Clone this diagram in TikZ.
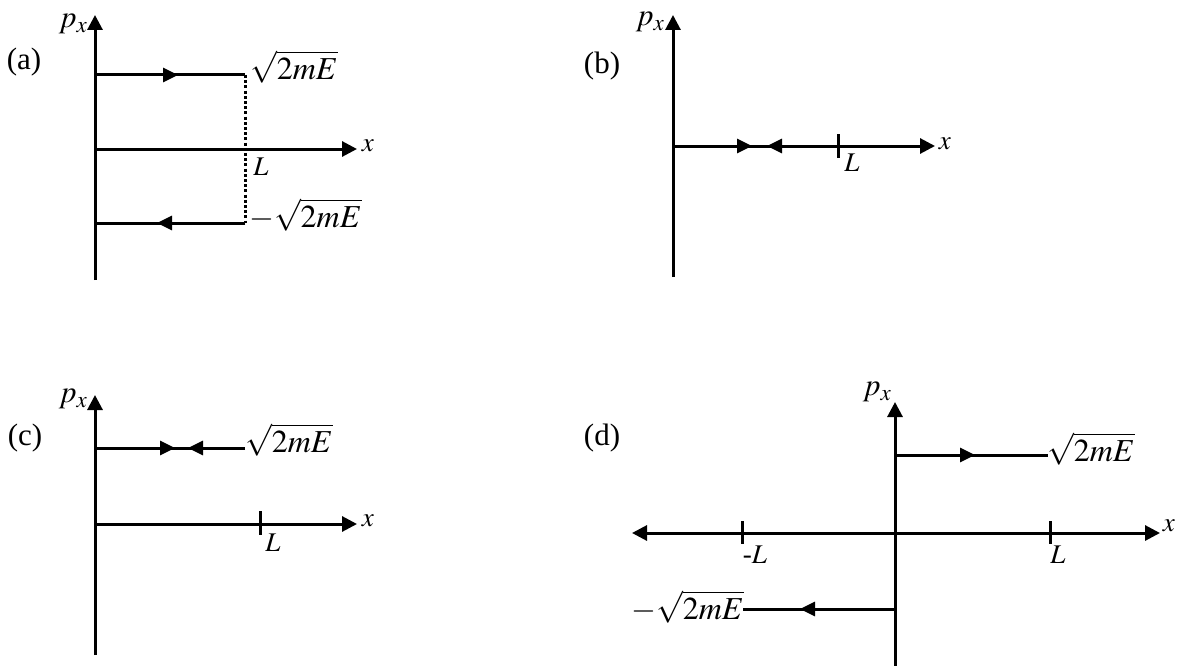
\documentclass[tikz,border=0pt]{standalone}
\usepackage{mathptmx}
\usepackage[no-math]{fontspec}
\setmainfont{Liberation Serif}
\usetikzlibrary{arrows.meta}
\begin{document}
\begin{tikzpicture}[x=1pt,y=-1pt,
  axisline/.style={line width=3pt,-{Triangle[length=15pt,width=15pt]}},
  plainline/.style={line width=3pt},
  arrowline/.style={line width=3pt,-{Triangle[length=15pt,width=14pt]}},
  tickline/.style={line width=3pt},
  dotline/.style={line width=3pt,dash pattern=on 3pt off 2.2pt},
  sqrtlab/.style={font=\fontsize{32}{36}\selectfont,inner sep=0pt},
  smalllab/.style={font=\fontsize{27}{30}\selectfont,inner sep=0pt},
  pxlab/.style={font=\fontsize{31}{34}\selectfont,inner sep=0pt},
  panellab/.style={font=\fontsize{31}{34}\selectfont,inner sep=0pt},
]
\useasboundingbox (0,0) rectangle (1177,666);

% ---------------- panel (a)
\coordinate (aB) at (95,280); \coordinate (aT) at (95,15);
\coordinate (aO) at (95,149); \coordinate (aX) at (357,149);
\coordinate (aP1) at (95,75); \coordinate (aM1) at (178,75); \coordinate (aQ1) at (245,75);
\coordinate (aP2) at (95,223); \coordinate (aM2) at (157,223); \coordinate (aQ2) at (245,223);
\draw[axisline] (aB) -- (aT);
\draw[axisline] (aO) -- (aX);
\draw[plainline] (aP1) -- (aQ1); \draw[arrowline] (aP1) -- (aM1);
\draw[plainline] (aQ2) -- (aP2); \draw[arrowline] (aQ2) -- (aM2);
\draw[dotline] (aQ1) -- (aQ2);
\node[panellab] (aLab) at (24,62) {(a)};
\node[pxlab] (aPx) at (73,24) {$p_x$};
\node[smalllab] (aXl) at (368,146) {$x$};
\node[smalllab] (aL) at (261,167) {$L$};
\node[sqrtlab,anchor=west] (aS1) at (250,67) {$\sqrt{2mE}$};
\node[sqrtlab,anchor=west] (aS2) at (249,215) {$-\sqrt{2mE}$};

% ---------------- panel (b)
\coordinate (bB) at (673,277); \coordinate (bT) at (673,15);
\coordinate (bO) at (673,146); \coordinate (bX) at (935,146);
\coordinate (bK1) at (838,134); \coordinate (bK2) at (838,158);
\coordinate (bK) at (838,146);
\coordinate (bM1) at (752,146); \coordinate (bM2) at (767,146);
\draw[axisline] (bB) -- (bT);
\draw[axisline] (bO) -- (bX);
\draw[tickline] (bK1) -- (bK2);
\draw[arrowline] (bO) -- (bM1);
\draw[arrowline] (bK) -- (bM2);
\node[panellab] (bLab) at (602,66) {(b)};
\node[pxlab] (bPx) at (650,22) {$p_x$};
\node[smalllab] (bXl) at (945,144) {$x$};
\node[smalllab] (bL) at (852,163) {$L$};

% ---------------- panel (c)
\coordinate (cB) at (95,655); \coordinate (cT) at (95,395);
\coordinate (cO) at (95,524); \coordinate (cX) at (357,524);
\coordinate (cK1) at (260,511); \coordinate (cK2) at (260,535);
\coordinate (cP1) at (95,448); \coordinate (cM1) at (175,448);
\coordinate (cM2) at (188,448); \coordinate (cQ1) at (245,448);
\draw[axisline] (cB) -- (cT);
\draw[axisline] (cO) -- (cX);
\draw[tickline] (cK1) -- (cK2);
\draw[plainline] (cP1) -- (cQ1);
\draw[arrowline] (cP1) -- (cM1);
\draw[arrowline] (cQ1) -- (cM2);
\node[panellab] (cLab) at (25,438) {(c)};
\node[pxlab] (cPx) at (73,399) {$p_x$};
\node[smalllab] (cXl) at (368,521) {$x$};
\node[smalllab] (cL) at (273,543) {$L$};
\node[sqrtlab,anchor=west] (cS1) at (245,440) {$\sqrt{2mE}$};

% ---------------- panel (d)
\coordinate (dB) at (895,666); \coordinate (dT) at (895,402);
\coordinate (dO) at (895,533); \coordinate (dXr) at (1160,533); \coordinate (dXl) at (632,533);
\coordinate (dK1) at (742,521); \coordinate (dK2) at (742,544);
\coordinate (dK3) at (1050,521); \coordinate (dK4) at (1050,544);
\coordinate (dP1) at (895,455); \coordinate (dM1) at (975,455); \coordinate (dQ1) at (1048,455);
\coordinate (dP2) at (895,609); \coordinate (dM2) at (800,609); \coordinate (dQ2) at (743,609);
\draw[axisline] (dB) -- (dT);
\draw[axisline] (dO) -- (dXr);
\draw[axisline] (dO) -- (dXl);
\draw[tickline] (dK1) -- (dK2);
\draw[tickline] (dK3) -- (dK4);
\draw[plainline] (dP1) -- (dQ1); \draw[arrowline] (dP1) -- (dM1);
\draw[plainline] (dP2) -- (dQ2); \draw[arrowline] (dP2) -- (dM2);
\node[panellab] (dLab) at (602,438) {(d)};
\node[pxlab] (dPx) at (877,392) {$p_x$};
\node[smalllab] (dXl2) at (1169,526) {$x$};
\node[smalllab] (dLm) at (755,555) {-$L$};
\node[smalllab] (dL) at (1058,555) {$L$};
\node[sqrtlab,anchor=west] (dS1) at (1047,449) {$\sqrt{2mE}$};
\node[sqrtlab,anchor=east] (dS2) at (744,607) {$-\sqrt{2mE}$};
\end{tikzpicture}
\end{document}
